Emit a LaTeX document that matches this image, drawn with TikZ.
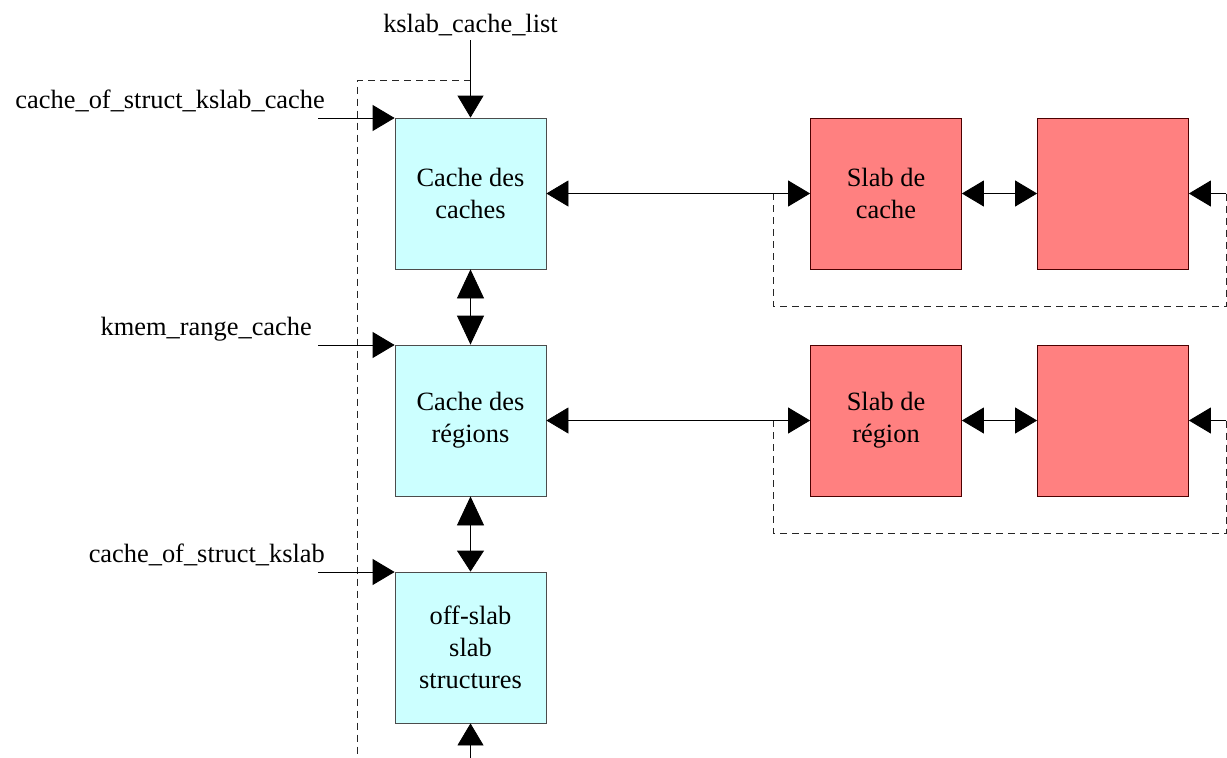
\documentclass[tikz,border=0pt]{standalone}
\usepackage{fontspec}
\setmainfont{Liberation Serif}
\usetikzlibrary{arrows.meta}
\definecolor{cyanbox}{RGB}{204,255,255}
\definecolor{redbox}{RGB}{255,128,128}
\begin{document}
\begin{tikzpicture}[x=1pt,y=-1pt,
  font=\fontsize{26.4}{32}\selectfont,
  cbox/.style={draw=black!70, fill=cyanbox, minimum width=151pt, minimum height=151pt, inner sep=0pt, align=center, line width=0.8pt},
  rbox/.style={cbox, fill=redbox, draw=black!70!red},
  lbl/.style={inner sep=0pt},
  conn/.style={line width=0.8pt, draw=black},
  tip/.style={conn, -{Triangle[length=22pt,width=26pt]}},
  dtip/.style={conn, {Triangle[length=22pt,width=26pt]}-{Triangle[length=22pt,width=26pt]}},
  vtip/.style={conn, {Triangle[length=29pt,width=27pt]}-{Triangle[length=29pt,width=27pt]}},
  vtipb/.style={conn, {Triangle[length=29pt,width=27pt]}-{Triangle[length=21pt,width=27pt]}},
  dline/.style={draw=black!85, line width=0.8pt, dash pattern=on 7pt off 5pt}
]
\useasboundingbox (0,0) rectangle (1227,758);

% boxes
\node[cbox] (c1) at (470.5,193.5) {Cache des\\caches};
\node[cbox] (c2) at (470.5,420.5) {Cache des\\régions};
\node[cbox] (c3) at (470.5,647.5) {off-slab\\slab\\structures};
\node[rbox] (r1) at (886,193.5) {Slab de\\cache};
\node[rbox] (r2) at (1113,193.5) {};
\node[rbox] (r3) at (886,420.5) {Slab de\\région};
\node[rbox] (r4) at (1113,420.5) {};

% labels
\node[lbl, anchor=base] (lcl) at (470.5,32) {kslab\_cache\_list};
\node[lbl, anchor=base east] (l1) at (325,108) {cache\_of\_struct\_kslab\_cache};
\node[lbl, anchor=base east] (l2) at (312,335) {kmem\_range\_cache};
\node[lbl, anchor=base east] (l3) at (325,562) {cache\_of\_struct\_kslab};

% coordinates
\coordinate (t0) at (470.5,40);
\coordinate (s1) at (318,118);
\coordinate (s2) at (318,345);
\coordinate (s3) at (318,572);
\coordinate (d0) at (470.5,80);
\coordinate (d1) at (357,80);
\coordinate (d2) at (357,758);
\coordinate (b0) at (470.5,758);
\coordinate (la) at (1226,193.5);
\coordinate (lb) at (1226,306);
\coordinate (lc) at (773,306);
\coordinate (ld) at (773,193.5);
\coordinate (ma) at (1226,420.5);
\coordinate (mb) at (1226,533);
\coordinate (mc) at (773,533);
\coordinate (md) at (773,420.5);

% dashed enclosures
\draw[dline] (d0) -- (d1) -- (d2);
\draw[dline] (la) -- (lb) -- (lc) -- (ld);
\draw[dline] (ma) -- (mb) -- (mc) -- (md);

% arrows
\draw[tip] (t0) -- (c1.north);
\draw[tip] (s1) -- (s1 -| c1.north west);
\draw[tip] (s2) -- (s2 -| c2.north west);
\draw[tip] (s3) -- (s3 -| c3.north west);
\draw[vtip] (c1.south) -- (c2.north);
\draw[vtipb] (c2.south) -- (c3.north);
\draw[tip] (b0) -- (c3.south);

\draw[dtip] (c1.east) -- (r1.west);
\draw[dtip] (r1.east) -- (r2.west);
\draw[tip] (la) -- (r2.east);
\draw[dtip] (c2.east) -- (r3.west);
\draw[dtip] (r3.east) -- (r4.west);
\draw[tip] (ma) -- (r4.east);
\end{tikzpicture}
\end{document}
